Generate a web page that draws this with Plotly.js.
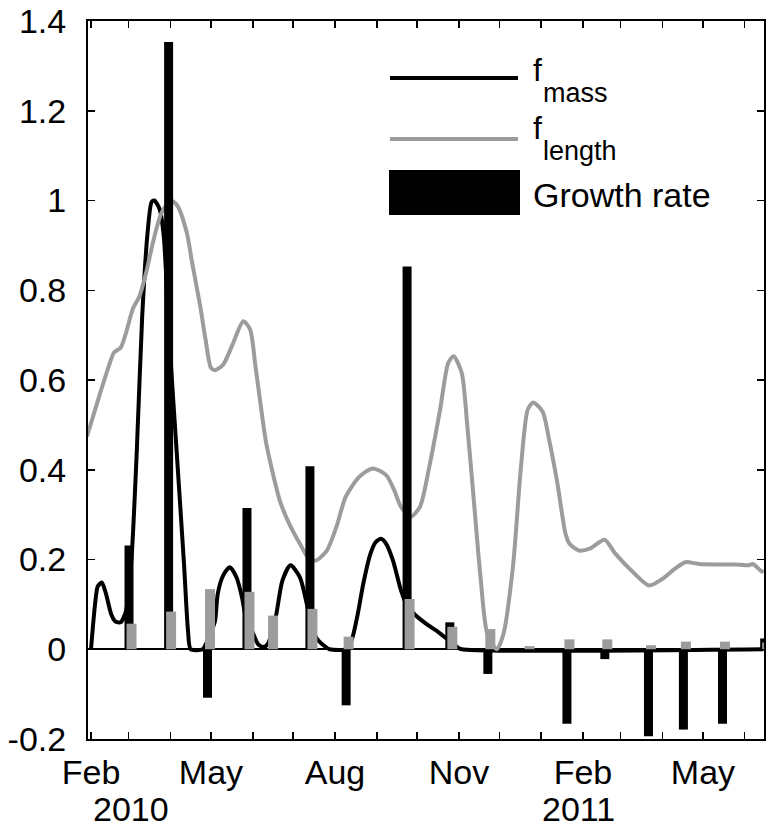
<!DOCTYPE html>
<html>
<head>
<meta charset="utf-8">
<script src="https://cdn.plot.ly/plotly-3.0.1.min.js"></script>
<style>html,body{margin:0;padding:0;background:#fff;}#chart{width:775px;height:830px;}</style>
</head>
<body>
<div id="chart"></div>
<script>
// ---- data ----
const massDates = [
 '2010-02-01','2010-02-04','2010-02-06','2010-02-09','2010-02-12','2010-02-16','2010-02-19','2010-02-23',
 '2010-02-27','2010-03-03','2010-03-07','2010-03-11','2010-03-15','2010-03-18','2010-03-20','2010-03-24',
 '2010-03-27','2010-03-31','2010-04-06','2010-04-11','2010-04-14','2010-04-16','2010-04-25','2010-04-27',
 '2010-04-30','2010-05-04','2010-05-06','2010-05-10','2010-05-15','2010-05-20','2010-05-24','2010-05-27',
 '2010-06-01','2010-06-05','2010-06-09','2010-06-12','2010-06-18','2010-06-23','2010-06-29','2010-07-06',
 '2010-07-12','2010-07-18','2010-07-23','2010-07-28','2010-08-10','2010-08-11','2010-08-14','2010-08-18',
 '2010-08-22','2010-08-27','2010-08-31','2010-09-04','2010-09-08','2010-09-13','2010-09-19','2010-09-23',
 '2010-09-29','2010-10-08','2010-10-16','2010-10-21','2010-10-27','2010-10-31','2010-11-03','2011-06-15'];
const massVals = [
 0,0.10,0.14,0.149,0.125,0.078,0.062,0.06,
 0.086,0.2,0.444,0.743,0.929,0.997,1.0,0.98,
 0.92,0.695,0.42,0.19,0.04,0,0,0.01,
 0.03,0.063,0.123,0.164,0.183,0.16,0.116,0.07,
 0.037,0.011,0.005,0.011,0.071,0.153,0.187,0.16,
 0.09,0.026,0.01,0,0,0.005,0.026,0.08,
 0.146,0.21,0.238,0.246,0.235,0.198,0.131,0.1,
 0.078,0.056,0.04,0.028,0.015,0.004,0,0];

const lengthDates = [
 '2010-01-29','2010-02-07','2010-02-15','2010-02-18','2010-02-23','2010-02-27','2010-03-04','2010-03-09',
 '2010-03-14','2010-03-19','2010-03-25','2010-04-01','2010-04-06','2010-04-13','2010-04-17','2010-04-23',
 '2010-04-27','2010-05-01','2010-05-04','2010-05-10','2010-05-17','2010-05-25','2010-05-30','2010-06-03',
 '2010-06-08','2010-06-11','2010-06-21','2010-06-28','2010-07-06','2010-07-13','2010-07-18','2010-07-26',
 '2010-08-02','2010-08-09','2010-08-19','2010-08-29','2010-09-08','2010-09-14','2010-09-19','2010-09-26',
 '2010-10-03','2010-10-10','2010-10-18','2010-10-24','2010-10-28','2010-11-03','2010-11-07','2010-11-12',
 '2010-11-17','2010-11-22','2010-11-29','2010-12-04','2010-12-11','2010-12-17','2010-12-22','2010-12-26',
 '2011-01-02','2011-01-07','2011-01-13','2011-01-19','2011-01-22','2011-01-29','2011-02-06','2011-02-17',
 '2011-02-25','2011-03-10','2011-03-22','2011-04-01','2011-04-10','2011-04-18','2011-04-28','2011-05-13',
 '2011-05-25','2011-06-04','2011-06-07','2011-06-13','2011-06-15'];
const lengthVals = [
 0.474,0.563,0.638,0.661,0.672,0.705,0.758,0.787,
 0.84,0.907,0.97,1.0,0.989,0.929,0.862,0.765,
 0.69,0.627,0.622,0.634,0.679,0.731,0.713,0.631,
 0.519,0.459,0.332,0.28,0.235,0.2,0.198,0.22,
 0.272,0.34,0.384,0.403,0.388,0.354,0.317,0.295,
 0.317,0.407,0.534,0.638,0.653,0.616,0.504,0.332,
 0.16,0.034,0.0,0.034,0.183,0.407,0.534,0.55,
 0.53,0.465,0.37,0.258,0.235,0.22,0.224,0.244,
 0.213,0.172,0.142,0.157,0.179,0.194,0.19,0.189,
 0.189,0.187,0.19,0.175,0.172];

const sampleDates = [
 '2010-03-01 05:00','2010-03-30 14:00','2010-04-28 10:00','2010-05-27 17:00','2010-06-14 05:00',
 '2010-07-13 10:00','2010-08-09 07:00','2010-09-23 12:00','2010-10-25 05:00','2010-11-22 10:00',
 '2010-12-21 12:00','2011-01-20 02:00','2011-02-17 05:00','2011-03-21 14:00','2011-04-16 12:00',
 '2011-05-15 12:00','2011-06-15 19:00'];
const growthRate = [0.231,1.353,-0.108,0.315,0,0.408,-0.125,0.853,0.06,-0.055,0,-0.166,-0.022,-0.194,-0.179,-0.166,0.024];
const growthLength = [0.057,0.084,0.134,0.128,0.075,0.09,0.028,0.112,0.05,0.045,0.007,0.022,0.022,0.009,0.017,0.017,0.015];

const monthTicks = ['2010-02-01','2010-03-01','2010-04-01','2010-05-01','2010-06-01','2010-07-01','2010-08-01',
 '2010-09-01','2010-10-01','2010-11-01','2010-12-01','2011-01-01','2011-02-01','2011-03-01','2011-04-01',
 '2011-05-01','2011-06-01'];
const monthLabels = ['Feb','','','May','','','Aug','','','Nov','','','Feb','','','May',''];
const yTicks = [-0.2,0,0.2,0.4,0.6,0.8,1,1.2,1.4];
const yLabels = ['-0.2','0','0.2','0.4','0.6','0.8','1','1.2','1.4'];
const yearLabels = ['2010','2011'];

// ---- styling ----
const GRAY = '#9c9c9c';
const FONT = '"Liberation Sans", Arial, Helvetica, sans-serif';
const DAY = 86400000;
const xRange = ['2010-01-29 18:36','2011-06-15 07:00'];
const yRange = [-0.2, 1.4];

const traces = [
  {x: massDates, y: massVals, type:'scatter', mode:'lines', name:'f_mass',
   line:{color:'#000', width:4, shape:'spline', smoothing:0.7}, xaxis:'x', yaxis:'y', showlegend:false},
  {x: lengthDates, y: lengthVals, type:'scatter', mode:'lines', name:'f_length',
   line:{color:GRAY, width:4, shape:'spline', smoothing:0.7}, xaxis:'x', yaxis:'y', showlegend:false},
  {x: sampleDates, y: growthRate, type:'bar', name:'Growth rate', marker:{color:'#000', line:{width:0}},
   width: 6.68*DAY, offset: -3.34*DAY, xaxis:'x2', yaxis:'y2', showlegend:false},
  {x: sampleDates, y: growthLength, type:'bar', name:'length growth', marker:{color:GRAY, line:{width:0}},
   width: 7.42*DAY, offset: -1.86*DAY, xaxis:'x2', yaxis:'y2', showlegend:false}
];

const W = 676, H = 718, L = 88, B = 739;
const px = v => (v - L)/W;
const py = v => (B - v)/H;

const layout = {
  width:775, height:830,
  margin:{l:88, r:11, t:21, b:91},
  paper_bgcolor:'#fff', plot_bgcolor:'rgba(0,0,0,0)',
  font:{family:FONT, size:34, color:'#000'},
  barmode:'overlay',
  xaxis:{type:'date', range:xRange, tickmode:'array', tickvals:monthTicks, ticktext:monthLabels,
    ticks:'inside', ticklen:7, tickwidth:1.5, tickcolor:'#000', showline:true, linewidth:2, linecolor:'#000',
    mirror:'ticks', showgrid:false, zeroline:false, tickfont:{size:34}, ticklabelstandoff:2, fixedrange:true},
  yaxis:{range:yRange, tickmode:'array', tickvals:yTicks, ticktext:yLabels,
    ticks:'inside', ticklen:7, tickwidth:1.5, tickcolor:'#000', showline:true, linewidth:2, linecolor:'#000',
    mirror:'ticks', showgrid:false, zeroline:true, zerolinecolor:'#000', zerolinewidth:2.2,
    tickfont:{size:34}, ticklabelstandoff:13, fixedrange:true},
  xaxis2:{type:'date', range:xRange, overlaying:'x', visible:false, fixedrange:true},
  yaxis2:{range:yRange, overlaying:'y', visible:false, fixedrange:true},
  shapes:[
    {type:'line', xref:'paper', yref:'paper', x0:px(390), x1:px(518), y0:py(78), y1:py(78), line:{color:'#000', width:4}},
    {type:'line', xref:'paper', yref:'paper', x0:px(390), x1:px(518), y0:py(139), y1:py(139), line:{color:GRAY, width:4}},
    {type:'rect', xref:'paper', yref:'paper', x0:px(389), x1:px(520), y0:py(215), y1:py(170), fillcolor:'#000', line:{width:0}}
  ],
  annotations:[
    {text:'f', xref:'paper', yref:'paper', x:px(531), y:py(70), xanchor:'left', yanchor:'middle', showarrow:false, font:{size:32}},
    {text:'mass', xref:'paper', yref:'paper', x:px(541), y:py(93), xanchor:'left', yanchor:'middle', showarrow:false, font:{size:27}},
    {text:'f', xref:'paper', yref:'paper', x:px(531), y:py(128), xanchor:'left', yanchor:'middle', showarrow:false, font:{size:32}},
    {text:'length', xref:'paper', yref:'paper', x:px(541), y:py(151), xanchor:'left', yanchor:'middle', showarrow:false, font:{size:27}},
    {text:'Growth rate', xref:'paper', yref:'paper', x:px(531), y:py(195), xanchor:'left', yanchor:'middle', showarrow:false, font:{size:34}},
    {text:yearLabels[0], xref:'paper', yref:'paper', x:px(131), y:py(809), xanchor:'center', yanchor:'middle', showarrow:false, font:{size:34}},
    {text:yearLabels[1], xref:'paper', yref:'paper', x:px(578), y:py(809), xanchor:'center', yanchor:'middle', showarrow:false, font:{size:34}}
  ]
};

Plotly.newPlot('chart', traces, layout, {staticPlot:true, displayModeBar:false});
</script>
</body>
</html>
